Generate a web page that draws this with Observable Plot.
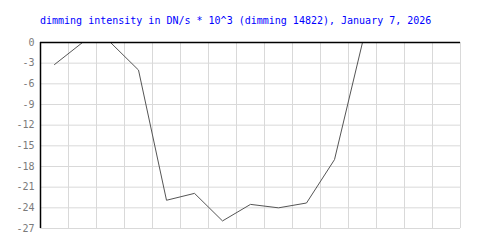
<!DOCTYPE html>
<html>
<head>
<meta charset="utf-8">
<script src="https://cdn.jsdelivr.net/npm/d3@7"></script>
<script src="https://cdn.jsdelivr.net/npm/@observablehq/plot@0.6"></script>
<style>
  html, body { margin: 0; padding: 0; background: #fff; }
  #title {
    box-sizing: border-box; height: 30px; padding-top: 14px; padding-left: 40px;
    font-family: "DejaVu Sans Mono", monospace; font-size: 10px; line-height: 14px;
    color: #0000ff; white-space: nowrap;
  }
</style>
</head>
<body>
<div id="title">dimming intensity in DN/s * 10^3 (dimming 14822), January 7, 2026</div>
<div id="chart"></div>
<script>
// Data
const steps = [0, 1, 2, 3, 4, 5, 6, 7, 8, 9, 10, 11];
const intensity = [-3.2, 0, 0, -4.0, -22.9, -21.9, -25.9, -23.5, -24.0, -23.3, -17.0, 0];
const yTicks = [0, -3, -6, -9, -12, -15, -18, -21, -24, -27];
const xGrid = d3.range(-0.5, 15, 1);

const data = steps.map((s, i) => ({step: s, value: intensity[i]}));

const chart = Plot.plot({
  width: 500,
  height: 220,
  marginTop: 12,
  marginBottom: 22,
  marginLeft: 40,
  marginRight: 40,
  style: {fontFamily: "'DejaVu Sans Mono', monospace", fontSize: "10px", background: "#fff"},
  x: {domain: [-0.5, 14.5], axis: null},
  y: {domain: [-27, 0]},
  marks: [
    Plot.ruleX(xGrid.slice(1), {stroke: "#d9d9d9", strokeWidth: 1}),
    Plot.ruleY(yTicks.slice(1), {stroke: "#d9d9d9", strokeWidth: 1}),
    Plot.axisY({ticks: yTicks, tickSize: 0, tickPadding: 6, fill: "#7a7a7a", tickFormat: d => d === 0 ? "0" : "-" + Math.abs(d), label: null}),
    Plot.line(data, {x: "step", y: "value", stroke: "#555", strokeWidth: 1, clip: true}),
    Plot.ruleX([xGrid[0]], {stroke: "#000", strokeWidth: 1.5}),
    Plot.ruleY([0], {stroke: "#000", strokeWidth: 1.5})
  ]
});
document.getElementById("chart").appendChild(chart);
</script>
</body>
</html>
